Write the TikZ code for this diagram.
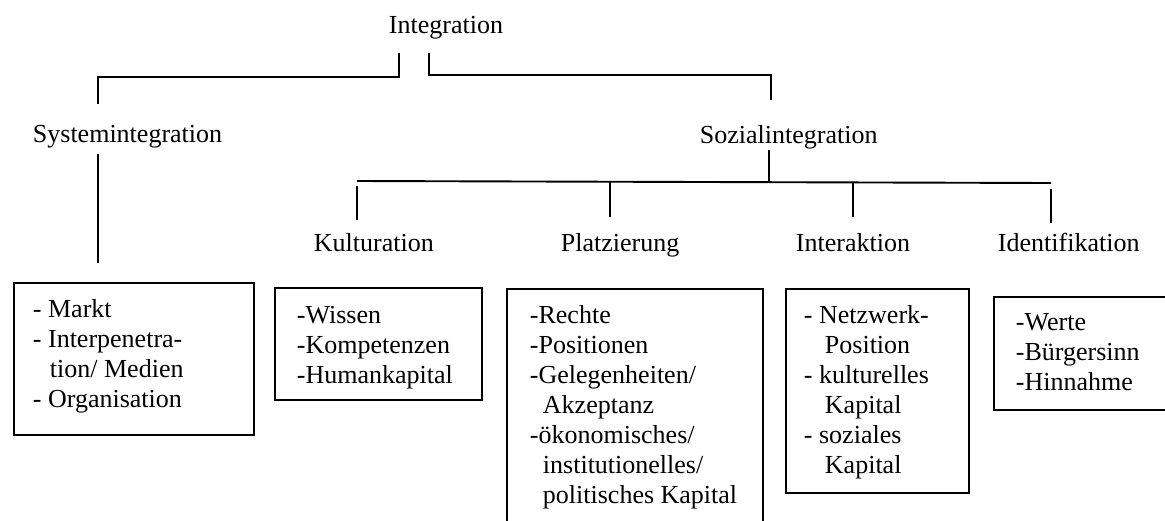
\documentclass[tikz,border=0pt]{standalone}
\usepackage{fontspec}
\setmainfont{Liberation Serif}
\begin{document}
\begin{tikzpicture}[x=1pt,y=-1pt,line width=1.9pt,
  lbl/.style={anchor=base west,inner sep=0pt,font=\fontsize{26}{30}\selectfont},
  frame/.style={draw,line width=1.9pt,anchor=north west,inner sep=0pt}]
\path[use as bounding box] (0,0) rectangle (1165,520);
\clip (0,0) rectangle (1165,520);

% headings
\node[lbl] (int) at (388,33) {Integration};
\node[lbl] (sys) at (32,142) {Systemintegration};
\node[lbl] (soz) at (699,143) {Sozialintegration};
\node[lbl] (kul) at (313,251) {Kulturation};
\node[lbl] (pla) at (560,251) {Platzierung};
\node[lbl] (inter) at (795,251) {Interaktion};
\node[lbl] (ide) at (997,251) {Identifikation};

% connector points
\coordinate (iL) at (399,53);
\coordinate (iR) at (429,53);
\coordinate (sysIn) at (98,104);
\coordinate (sozIn) at (771,100);
\coordinate (sysOut) at (98,154);
\coordinate (sysEnd) at (98,263);
\coordinate (sozOut) at (769,150);
\coordinate (sozBar) at (769,182);
\coordinate (barL) at (357,181);
\coordinate (barR) at (1051,183);
\coordinate (kulTop) at (357,186);
\coordinate (kulIn) at (357,220);
\coordinate (plaTop) at (610,182);
\coordinate (plaIn) at (610,217);
\coordinate (intTop) at (853,182);
\coordinate (intIn) at (853,217);
\coordinate (ideTop) at (1051,189);
\coordinate (ideIn) at (1051,223);

\draw (iL) -- ++(0,24) -| (sysIn);
\draw (iR) -- ++(0,22) -| (sozIn);
\draw (sysOut) -- (sysEnd);
\draw (sozOut) -- (sozBar);
\draw (barL) -- (barR);
\draw (kulTop) -- (kulIn);
\draw (plaTop) -- (plaIn);
\draw (intTop) -- (intIn);
\draw (ideTop) -- (ideIn);

% boxes
\node[frame,minimum width=240pt,minimum height=152pt] (b1) at (13,282) {};
\node[frame,minimum width=207pt,minimum height=112pt] (b2) at (274,287) {};
\node[frame,minimum width=256pt,minimum height=250pt] (b3) at (506,288) {};
\node[frame,minimum width=183pt,minimum height=204pt] (b4) at (785,288) {};
\node[frame,minimum width=200pt,minimum height=113pt] (b5) at (993,296) {};

% box texts
\node[lbl] (t1) at (32,317) {\parbox[t]{215pt}{\raggedright
  - Markt\\- Interpenetra-\\\hspace*{17pt}tion/ Medien\\- Organisation}};
\node[lbl] (t2) at (296,323) {\parbox[t]{180pt}{\raggedright
  -Wissen\\-Kompetenzen\\-Humankapital}};
\node[lbl] (t3) at (529,323) {\parbox[t]{230pt}{\raggedright
  -Rechte\\-Positionen\\-Gelegenheiten/\\\hspace*{13pt}Akzeptanz\\-ökonomisches/\\\hspace*{13pt}institutionelles/\\\hspace*{13pt}politisches Kapital}};
\node[lbl] (t4) at (803,323) {\parbox[t]{160pt}{\raggedright
  - Netzwerk-\\\hspace*{21pt}Position\\- kulturelles\\\hspace*{21pt}Kapital\\- soziales\\\hspace*{21pt}Kapital}};
\node[lbl] (t5) at (1015,330) {\parbox[t]{150pt}{\raggedright
  -Werte\\-Bürgersinn\\-Hinnahme}};
\end{tikzpicture}
\end{document}
